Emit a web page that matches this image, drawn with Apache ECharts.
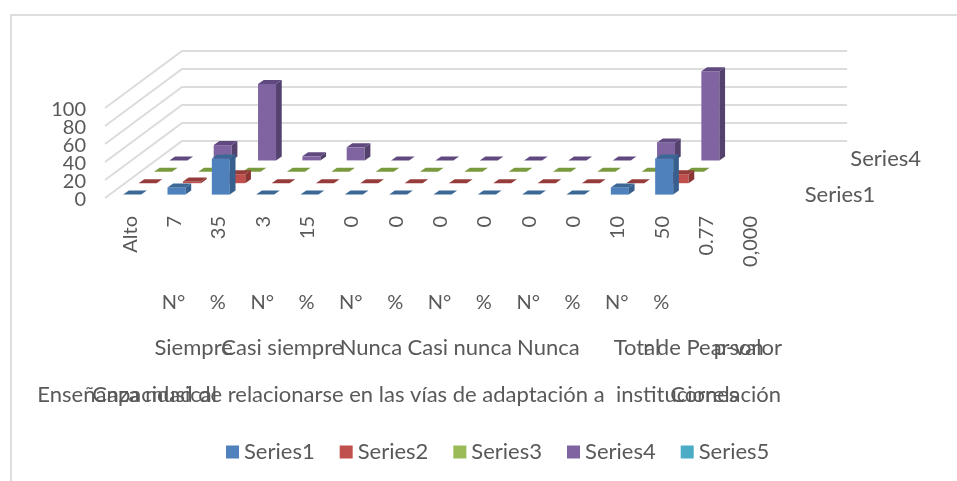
<!DOCTYPE html>
<html><head><meta charset="utf-8">
<style>html,body{margin:0;padding:0;background:#fff}#c{width:957px;height:481px}</style>
<script src="https://cdn.jsdelivr.net/npm/echarts@6/dist/echarts.min.js"></script>
</head><body><div id="c"></div>
<script>
const categories = ['Alto','7','35','3','15','0','0','0','0','0','0','10','50','0.77','0,000'];
const series1 = [0,8,40,0,0,0,0,0,0,0,0,8,40,null,null];
const series2 = [0,2,10,0,0,0,0,0,0,0,0,0,10,null,null];
const series3 = [0,0,0,0,0,0,0,0,0,0,0,0,0,null,null];
const series4 = [0,17,85,4.5,14.5,0,0,0,0,0,0,20,99,null,null];
const series5 = [];
const valueTicks = [0,20,40,60,80,100];
const unitLabels = ['N°','%','N°','%','N°','%','N°','%','N°','%','N°','%'];
const unitCenters = [1,2,3,4,5,6,7,8,9,10,11,12];
const groupLabels = ['Siempre','Casi siempre','Nunca','Casi nunca','Nunca','Total','r de Pearson','p-valor'];
const groupCenters = [1.5,3.5,5.5,7.5,9.5,11.5,13,14];
const topLabels = ['Enseñanza musical','Capacidad de relacionarse en las vías de adaptación a  instituciones','Correlación'];
const topCenters = [0,6.5,13.5];
const depthNames = ['Series1','Series4'];
const depthCenters = [16.08,17.11];

const FONT = 'Lato';
const TXT = '#595959';
const FS = 20, FS_WORD = 22;
const SHIFT = 3;
const ROWDX = 15.4, ROWDY = -11.4, DEPTHX = 77, DEPTHY = -57;
const FACE = 18, BX = 5.7, BY = -4, START_X = -4-SHIFT, START_Y = -3.4;
const palette = [
 {f:'#4f81bd',t:'#3c6896',s:'#37608f'},
 {f:'#c0504d',t:'#963c3a',s:'#8c3533'},
 {f:'#9bbb59',t:'#7a9a3f',s:'#6f8c3a'},
 {f:'#8064a2',t:'#60497f',s:'#54416e'},
 {f:'#4bacc6',t:'#37879c',s:'#327b8f'}
];
function poly(pts, fill){ return {type:'polygon', shape:{points:pts}, style:{fill:fill}, silent:true}; }
function barRender(row){
  return function(params, api){
    const i = api.value(0), v = api.value(1);
    const base = api.coord([i,0]), top = api.coord([i,v]);
    const x0 = base[0]+START_X+row*ROWDX, x1 = x0+FACE;
    const yb = base[1]+START_Y+row*ROWDY, yt = top[1]+START_Y+row*ROWDY;
    const c = palette[row], ch = [];
    if (yb-yt>0.1) {
      ch.push(poly([[x0,yb],[x1,yb],[x1,yt],[x0,yt]],c.f));
      ch.push(poly([[x1,yb],[x1+BX,yb+BY],[x1+BX,yt+BY],[x1,yt]],c.s));
    }
    ch.push(poly([[x0,yt],[x1,yt],[x1+BX,yt+BY],[x0+BX,yt+BY]],c.t));
    return {type:'group', children:ch};
  };
}
function mk(name,row,vals){
  const data=[]; vals.forEach((v,i)=>{ if(v!==null) data.push([i,v]); });
  return {name:name,type:'custom',coordinateSystem:'cartesian2d',xAxisIndex:0,yAxisIndex:0,
    clip:false,z:10-row,silent:true,itemStyle:{color:palette[row].f},data:data,
    encode:{x:0,y:1},renderItem:barRender(row)};
}
const textItems=[];
unitLabels.forEach((t,i)=>textItems.push({x:unitCenters[i],t:t,off:105,fs:FS,dx:-1}));
groupLabels.forEach((t,i)=>textItems.push({x:groupCenters[i],t:t,off:150,fs:FS_WORD,dx:-SHIFT}));
topLabels.forEach((t,i)=>textItems.push({x:topCenters[i],t:t,off:197,fs:FS_WORD,dx:-SHIFT}));
const depthOff=[-3,-39];
depthNames.forEach((t,i)=>textItems.push({x:depthCenters[i],t:t,off:depthOff[i],fs:FS_WORD,dx:-SHIFT}));

const option = {
  backgroundColor:'#fff',
  animation:false,
  textStyle:{fontFamily:FONT},
  graphic:[{type:'polyline',silent:true,shape:{points:[[11,481],[11,15],[957,15]]},style:{stroke:'#dedede',fill:null,lineWidth:2}}],
  legend:{data:['Series1','Series2','Series3','Series4','Series5'],left:221,top:436,itemWidth:13,itemHeight:13,itemGap:25,
    textStyle:{color:TXT,fontSize:FS_WORD,fontFamily:FONT},selectedMode:false,icon:'rect'},
  grid:{left:105+SHIFT,right:187-SHIFT,top:108,bottom:283,containLabel:false},
  xAxis:[
    {type:'category',data:categories,axisLine:{show:false},axisTick:{show:false},splitLine:{show:false},
     axisLabel:{interval:0,rotate:90,margin:18,color:TXT,fontSize:FS,fontFamily:FONT,hideOverlap:false}},
    {type:'value',min:-0.5,max:14.5,show:false}
  ],
  yAxis:{type:'value',min:0,max:100,interval:20,axisLine:{show:false},axisTick:{show:false},splitLine:{show:false},axisLabel:{show:false}},
  series:[
    {type:'custom',name:'walls',coordinateSystem:'cartesian2d',xAxisIndex:1,yAxisIndex:0,clip:false,z:1,silent:true,
     data:valueTicks.map(v=>[-0.5,v,14.5]),encode:{x:0,y:1},
     renderItem:function(p,api){
       const a=api.coord([-0.5,api.value(1)]), b=api.coord([14.5,api.value(1)]);
       const s={stroke:'#dcdcdc',fill:null,lineWidth:2};
       const ax=a[0]-SHIFT, bx=b[0]-SHIFT;
       return {type:'polyline',silent:true,shape:{points:[[ax,a[1]],[ax+DEPTHX,a[1]+DEPTHY],[bx+DEPTHX,b[1]+DEPTHY]]},style:s};
     }},
    {type:'custom',name:'valueLabels',coordinateSystem:'cartesian2d',xAxisIndex:1,yAxisIndex:0,clip:false,z:20,silent:true,
     data:valueTicks.map(v=>[-0.5,v]),encode:{x:0,y:1},
     renderItem:function(p,api){
       const c=api.coord([-0.5,api.value(1)]);
       return {type:'text',silent:true,style:{text:String(valueTicks[p.dataIndex]),x:c[0]-22,y:c[1]+2,fill:TXT,fontSize:FS,fontFamily:FONT,align:'right',verticalAlign:'middle'}};
     }},
    mk('Series1',0,series1),mk('Series2',1,series2),mk('Series3',2,series3),mk('Series4',3,series4),mk('Series5',4,series5),
    {type:'custom',name:'levels',coordinateSystem:'cartesian2d',xAxisIndex:1,yAxisIndex:0,clip:false,z:20,silent:true,
     data:textItems.map(o=>[o.x,0]),encode:{x:0,y:1},
     renderItem:function(p,api){
       const o=textItems[p.dataIndex], c=api.coord([o.x,0]);
       return {type:'text',silent:true,style:{text:o.t,x:c[0]+o.dx,y:c[1]+o.off,fill:TXT,fontSize:o.fs,fontFamily:FONT,align:'center',verticalAlign:'middle'}};
     }}
  ]
};
echarts.init(document.getElementById('c'),null,{renderer:'canvas'}).setOption(option);
</script></body></html>
